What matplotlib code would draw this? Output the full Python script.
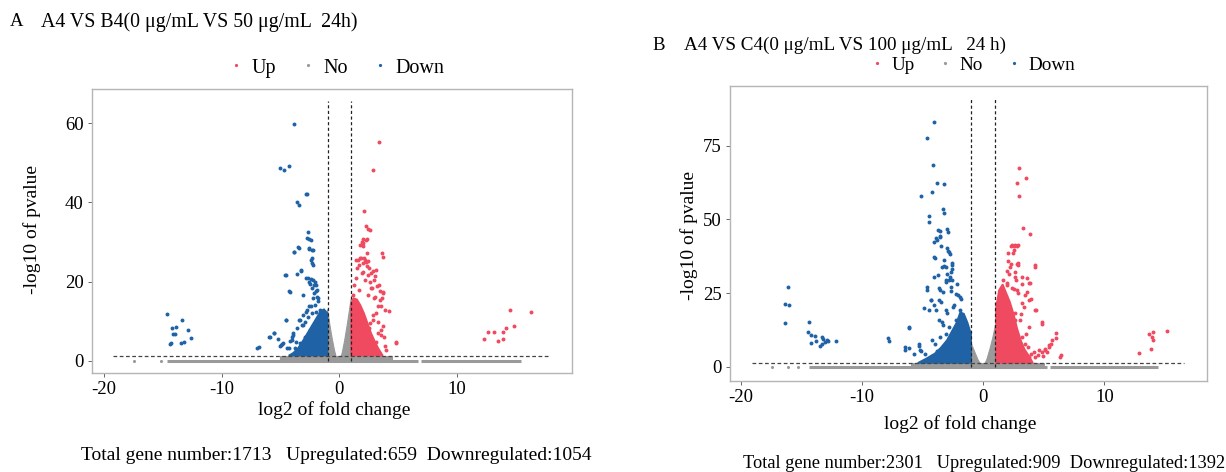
import matplotlib
matplotlib.use("Agg")
import matplotlib.pyplot as plt
from matplotlib.lines import Line2D

plt.rcParams["font.family"] = ["Liberation Serif", "DejaVu Serif"]

RED = "#EF4A5F"
BLUE = "#1F63A6"
GRAY = "#9A9A9A"

# ---------------------------------------------------------------------------
# Panel A : A4 vs B4
A_UP_X = [3.37, 2.89, 2.10, 2.27, 2.46, 2.61, 1.90, 2.04, 2.32, 1.76, 1.98, 3.60, 3.68,
          1.56, 1.76, 2.18, 2.46, 2.04, 2.32, 2.89, 2.66, 3.03, 2.18, 2.61, 3.17, 3.46,
          3.74, 4.25, 3.88, 3.46, 3.31, 3.60, 3.12, 4.82, 3.80, 3.88, 3.68, 3.51, 3.31,
          2.89, 2.61, 3.03, 2.75, 1.90, 1.47, 2.32,
          2.27, 1.98, 1.84, 2.13, 2.27, 1.42, 1.70, 2.55, 3.12, 1.98, 2.41, 1.42, 2.98,
          3.40, 2.70, 1.70, 2.41, 2.98, 3.55, 3.69, 4.82, 3.97, 3.55, 3.26, 2.84, 2.55,
          2.27, 3.12, 2.70, 1.28, 1.13,
          12.29, 12.66, 13.14, 13.46, 13.94, 13.94, 14.16, 14.50, 14.79, 16.26]
A_UP_Y = [55.2, 48.1, 37.7, 33.9, 33.2, 33.1, 30.1, 30.7, 30.7, 29.1, 28.9, 27.2, 26.3,
          25.5, 25.9, 25.5, 25.1, 24.7, 23.8, 22.6, 22.1, 21.3, 20.5, 20.0, 18.8, 17.5,
          17.1, 12.6, 12.9, 15.4, 13.7, 15.8, 12.0, 4.6, 6.1, 3.6, 8.7, 7.8, 7.0,
          10.4, 9.5, 16.2, 18.4, 22.1, 23.4, 27.2,
          30.5, 29.6, 25.9, 25.9, 25.0, 25.4, 24.2, 23.3, 22.9, 22.5, 21.7, 20.8, 20.4,
          19.1, 18.3, 17.9, 16.6, 15.8, 13.7, 17.4, 4.8, 2.8, 6.6, 9.9, 11.6, 8.2,
          6.6, 4.8, 3.6, 19.1, 16.6,
          5.6, 7.2, 7.2, 5.05, 5.6, 7.2, 8.2, 12.9, 8.7, 12.3]
A_DOWN_X = [-3.82, -5.04, -4.70, -4.31, -2.86, -2.78, -3.63, -3.46, -2.63, -2.55, -2.44,
            -3.48, -3.82, -2.61, -2.35, -2.29, -2.35, -2.27, -4.53, -3.57, -3.26, -4.19,
            -4.53, -6.83, -5.89, -5.55, -5.24, -5.04, -4.90, -4.76, -3.99, -4.05, -3.34,
            -3.14, -2.92, -2.63, -2.44, -2.21, -2.07, -2.49, -1.98, -2.35, -1.93, -2.15,
            -1.87, -2.27, -1.78, -2.04, -2.55, -2.78, -2.29, -1.64, -3.06, -2.63, -3.57,
            -3.91, -4.19, -4.48, -3.77, -3.34, -2.92, -2.49,
            -2.70, -2.55, -2.27, -3.83, -3.46, -2.41, -4.62, -3.26, -2.84, -4.26, -2.55,
            -2.13, -1.98, -3.12, -1.84, -4.54, -3.40, -3.12, -3.97, -5.53, -5.96, -6.95,
            -4.96, -4.26, -2.84, -2.41, -1.98, -3.69,
            -14.59, -14.25, -14.39, -14.19, -14.11, -13.88, -13.97, -13.34, -13.46, -13.20,
            -12.83, -12.63]
A_DOWN_Y = [59.8, 48.7, 48.1, 49.1, 42.2, 42.2, 40.1, 39.2, 32.4, 30.7, 30.6,
            28.6, 27.4, 28.2, 27.9, 25.9, 24.8, 24.2, 21.7, 21.9, 22.7, 17.3,
            10.4, 3.4, 5.9, 7.0, 5.6, 3.6, 4.2, 4.5, 6.1, 5.3, 10.4,
            9.1, 9.7, 20.9, 20.6, 20.5, 20.0, 19.4, 19.2, 18.4, 17.9, 17.1,
            16.2, 15.8, 15.0, 14.1, 13.7, 12.9, 12.0, 12.9, 11.6, 11.0, 8.2,
            7.0, 4.9, 3.2, 3.2, 4.5, 6.1, 7.8,
            30.9, 28.4, 27.96, 27.5, 28.5, 25.4, 21.7, 22.9, 20.8, 17.5, 20.0,
            19.1, 17.5, 16.6, 15.8, 10.3, 10.3, 9.1, 6.6, 7.0, 6.1, 3.2,
            4.0, 3.2, 12.4, 13.7, 12.4, 4.8,
            11.8, 4.46, 4.3, 8.25, 6.8, 8.5, 6.8, 10.2, 4.6, 4.7,
            7.7, 5.8]
# dense cores (outline of the solid clusters)
A_UP_CORE_X = [1.0, 1.0, 1.2, 1.5, 1.8, 2.1, 2.4, 2.7, 3.0, 3.3, 3.7]
A_UP_CORE_Y = [1.3, 14.5, 15.8, 15.5, 14.0, 12.0, 9.5, 7.0, 5.0, 3.2, 1.3]
A_DOWN_CORE_X = [-1.0, -1.0, -1.3, -1.6, -1.9, -2.3, -2.7, -3.1, -3.5, -3.9, -4.3]
A_DOWN_CORE_Y = [1.3, 12.0, 13.0, 12.5, 11.0, 9.0, 7.0, 5.0, 3.2, 2.0, 1.3]
A_NO_CORE_X = [-1.0, -1.0, -0.8, -0.6, -0.4, -0.25, -0.1, 0.1, 0.25, 0.45, 0.7, 1.0, 1.0]
A_NO_CORE_Y = [0.0, 13.0, 9.0, 5.5, 2.5, 0.8, 0.3, 0.5, 2.0, 5.0, 9.5, 15.5, 0.0]
A_NO_FLOOR = (-5.0, 4.5, 1.3)
A_NO_BAND = [(-14.6, 6.65), (6.95, 15.4)]
A_NO_X = [-17.45, -15.1]
A_NO_Y = [0.0, 0.0]

# Panel B : A4 vs C4
B_UP_X = [2.94, 3.52, 2.80, 2.94, 3.31, 3.89, 2.31, 2.56, 2.82, 2.51, 2.07, 2.25, 2.80,
          2.88, 1.96, 2.13, 2.65, 4.24, 2.71, 3.17, 3.80, 1.64, 1.93, 2.51, 2.80, 3.57,
          3.95, 4.32, 4.81, 3.37, 3.08, 2.65, 2.22, 5.97, 5.59, 5.39, 5.10, 4.81, 4.52,
          4.24, 3.95, 6.34, 5.24, 4.96, 3.52, 3.80, 3.23, 2.94, 3.66, 3.37,
          2.34, 2.62, 2.90, 2.06, 2.48, 2.90, 4.29, 2.20, 2.62, 3.18, 3.60, 3.88, 1.92,
          2.34, 2.90, 3.46, 3.74, 3.18, 4.29, 2.62, 3.04, 4.85, 5.97, 5.69, 5.41, 5.13,
          4.58, 4.16, 6.39, 3.46, 3.04, 3.74,
          12.85, 13.80, 13.69, 13.89, 14.03, 14.01, 15.13]
B_UP_Y = [67.3, 64.2, 62.5, 58.1, 47.0, 45.2, 40.9, 40.9, 40.9, 39.5, 35.8, 35.0, 35.0,
          34.4, 32.5, 31.6, 32.1, 33.8, 29.3, 28.2, 28.4, 29.3, 27.6, 26.4, 25.9, 25.3,
          23.0, 19.1, 14.5, 20.2, 17.9, 15.7, 13.4, 9.8, 7.7, 6.6, 5.7, 4.9, 4.1,
          3.4, 4.3, 3.4, 4.9, 3.7, 11.1, 13.4, 10.0, 7.7, 6.6, 4.3,
          41.4, 41.4, 41.4, 38.6, 38.6, 35.2, 34.6, 34.0, 30.6, 30.6, 30.0, 28.3, 28.3,
          26.6, 24.9, 24.3, 22.6, 21.5, 19.2, 18.1, 15.8, 15.2, 11.3, 9.0, 7.3, 6.1,
          5.6, 5.0, 3.9, 7.8, 6.1, 3.3,
          4.8, 5.9, 11.1, 10.2, 11.7, 9.1, 12.3]
B_DOWN_X = [-4.09, -4.61, -4.12, -3.78, -3.20, -4.27, -5.16, -3.29, -3.26, -4.50, -4.47,
            -3.75, -3.54, -3.00, -2.88, -3.60, -3.78, -4.09, -2.91, -2.74, -3.98, -2.54,
            -2.59, -3.20, -3.11, -3.75, -2.97, -2.82, -2.59, -2.74, -3.11, -2.19, -4.64,
            -3.54, -3.34, -2.68, -2.25, -1.96, -1.82, -4.32, -3.69, -4.03, -4.47, -3.11,
            -2.48, -1.96, -3.69, -3.34, -3.11, -6.14, -7.75, -6.43, -6.14, -5.27, -5.13,
            -4.84, -4.27, -3.98, -3.54, -2.82, -2.25, -3.83,
            -3.93, -3.57, -3.51, -4.07, -2.96, -2.82, -3.24, -2.54, -3.38, -2.68, -4.07,
            -3.10, -4.63, -3.65, -2.68, -2.12, -4.35, -3.51, -2.40, -4.91, -3.93, -2.96,
            -3.38, -6.16, -7.84, -6.44, -5.33, -4.21, -5.19, -5.75,
            -16.08, -16.37, -16.02, -16.37, -14.35, -14.50, -14.21, -13.92, -14.21, -13.78,
            -13.34, -13.20, -13.34, -13.49, -13.05, -12.91, -12.77, -12.13]
B_DOWN_Y = [82.9, 77.6, 68.3, 62.5, 62.0, 59.3, 57.9, 53.6, 52.2, 51.1, 49.1,
            46.5, 46.1, 46.9, 45.7, 44.0, 42.9, 42.3, 39.3, 38.4, 37.0, 34.6,
            33.1, 34.3, 33.8, 31.0, 31.6, 29.5, 29.6, 30.4, 28.7, 28.1, 26.1,
            25.9, 25.5, 25.7, 24.7, 23.6, 23.0, 22.5, 22.5, 20.8, 19.3, 19.1,
            20.2, 19.1, 15.7, 14.3, 11.1, 13.1, 8.9, 5.7, 6.2, 6.9, 5.4,
            4.3, 3.7, 7.7, 10.0, 13.4, 15.7, 5.4,
            43.7, 44.3, 40.9, 37.4, 40.3, 39.1, 36.3, 35.2, 34.0, 32.3, 30.6,
            29.5, 27.2, 26.6, 27.2, 24.3, 22.6, 22.1, 20.9, 19.8, 19.2, 18.1,
            15.3, 13.5, 9.6, 6.7, 7.8, 9.0, 5.6, 4.4,
            26.9, 21.2, 20.8, 14.9, 15.1, 11.7, 10.9, 10.6, 7.9, 8.6,
            10.0, 9.4, 7.7, 6.9, 8.3, 9.1, 8.6, 8.6]
B_UP_CORE_X = [1.05, 1.05, 1.3, 1.6, 1.9, 2.2, 2.5, 2.8, 3.1, 3.4, 3.8, 4.1]
B_UP_CORE_Y = [1.3, 20.0, 26.0, 28.0, 25.0, 22.0, 18.0, 13.0, 9.0, 6.0, 3.5, 1.3]
B_DOWN_CORE_X = [-1.0, -1.0, -1.3, -1.6, -1.9, -2.2, -2.6, -3.0, -3.5, -4.0, -4.7, -5.4]
B_DOWN_CORE_Y = [1.3, 11.0, 15.0, 18.0, 18.5, 15.0, 12.0, 9.0, 6.5, 4.5, 2.8, 1.3]
B_NO_CORE_X = [-1.0, -1.0, -0.7, -0.45, -0.25, -0.1, 0.1, 0.3, 0.55, 0.8, 1.0, 1.0]
B_NO_CORE_Y = [0.0, 8.0, 5.0, 2.5, 1.0, 0.5, 0.6, 2.5, 6.0, 10.0, 14.0, 0.0]
B_NO_FLOOR = (-6.0, 5.0, 1.3)
B_NO_BAND = [(-14.4, 5.24), (5.53, 14.4)]
B_NO_X = [-17.46, -16.1, -15.3]
B_NO_Y = [0.0, 0.0, 0.0]

PANELS = [
    dict(letter="A", title="A4 VS B4(0 \u03bcg/mL VS 50 \u03bcg/mL  24h)",
         footer="Total gene number:1713   Upregulated:659  Downregulated:1054",
         up=(A_UP_X, A_UP_Y), down=(A_DOWN_X, A_DOWN_Y), no=(A_NO_X, A_NO_Y),
         up_core=(A_UP_CORE_X, A_UP_CORE_Y), down_core=(A_DOWN_CORE_X, A_DOWN_CORE_Y),
         no_core=(A_NO_CORE_X, A_NO_CORE_Y), floor=A_NO_FLOOR, band=A_NO_BAND,
         yticks=[0, 20, 40, 60], xlim=(-21.0, 19.75), ylim=(-3.1, 68.6),
         vtop=65.5, hline=(-19.2, 17.9),
         rect=[0.075, 0.2097, 0.3915, 0.6017]),
    dict(letter="B", title="A4 VS C4(0 \u03bcg/mL VS 100 \u03bcg/mL   24 h)",
         footer="Total gene number:2301   Upregulated:909  Downregulated:1392",
         up=(B_UP_X, B_UP_Y), down=(B_DOWN_X, B_DOWN_Y), no=(B_NO_X, B_NO_Y),
         up_core=(B_UP_CORE_X, B_UP_CORE_Y), down_core=(B_DOWN_CORE_X, B_DOWN_CORE_Y),
         no_core=(B_NO_CORE_X, B_NO_CORE_Y), floor=B_NO_FLOOR, band=B_NO_BAND,
         yticks=[0, 25, 50, 75], xlim=(-20.9, 18.45), ylim=(-4.8, 95.3),
         vtop=91.0, hline=(-19.1, 16.6),
         rect=[0.5954, 0.193, 0.389, 0.625]),
]
# ---------------------------------------------------------------------------

W, H = 1226, 472
fig = plt.figure(figsize=(W / 100, H / 100), dpi=100)


def px(x, y):
    """pixel position (from top-left) -> figure fraction"""
    return x / W, 1 - y / H


def draw_panel(p):
    ax = fig.add_axes(p["rect"])
    fl0, fl1, fltop = p["floor"]
    ax.fill([fl0, fl1, fl1, fl0], [0, 0, fltop, fltop], color=GRAY, lw=0.8, zorder=1)
    ax.fill(*p["no_core"], color=GRAY, lw=0.8, zorder=1)
    for x0, x1 in p["band"]:
        ax.hlines(0, x0, x1, color=GRAY, lw=2.2, zorder=1)
    ax.scatter(*p["no"], s=5, color=GRAY, lw=0, zorder=1)

    ax.fill(*p["down_core"], color=BLUE, ec=BLUE, lw=1.2, zorder=2)
    ax.fill(*p["up_core"], color=RED, ec=RED, lw=1.2, zorder=2)
    ax.scatter(*p["down"], s=8, color=BLUE, lw=0, zorder=3)
    ax.scatter(*p["up"], s=8, color=RED, lw=0, zorder=3)

    ax.vlines([-1, 1], 0, p["vtop"], colors="#222222", linestyles=(0, (2.5, 2)), lw=0.9, zorder=4)
    ax.hlines(1.3, *p["hline"], colors="#444444", linestyles=(0, (3, 2)), lw=0.9, zorder=4)

    ax.set_xlim(*p["xlim"])
    ax.set_ylim(*p["ylim"])
    ax.set_xticks([-20, -10, 0, 10])
    ax.set_xticklabels(["-20", "-10", "0", "10"])
    ax.set_yticks(p["yticks"])
    ax.tick_params(length=3, width=0.7, color="#666666", labelsize=13.5, pad=3)
    for s in ax.spines.values():
        s.set_color("#B5B5B5")
        s.set_linewidth(1.0)
    return ax


axA = draw_panel(PANELS[0])
axB = draw_panel(PANELS[1])

# titles
fig.text(*px(10, 22), "A", fontsize=13.5, va="center")
fig.text(*px(41, 22), PANELS[0]["title"], fontsize=14.3, va="center")
fig.text(*px(652, 45), "B", fontsize=13.5, va="center")
fig.text(*px(684, 45), PANELS[1]["title"], fontsize=13.8, va="center")

# axis labels
fig.text(*px(32, 230), "-log10 of pvalue", fontsize=14, rotation=90, ha="center", va="center")
fig.text(*px(689, 236), "-log10 of pvalue", fontsize=14, rotation=90, ha="center", va="center")
fig.text(*px(334, 410), "log2 of fold change", fontsize=14, ha="center", va="center")
fig.text(*px(960, 424), "log2 of fold change", fontsize=14, ha="center", va="center")

# footers
fig.text(*px(336, 456), PANELS[0]["footer"], fontsize=14, ha="center", va="center")
fig.text(*px(984, 464), PANELS[1]["footer"], fontsize=13.2, ha="center", va="center")

# legends
handles = [Line2D([], [], ls="", marker="o", ms=2.3, color=c, mew=0) for c in (RED, GRAY, BLUE)]
for ax, (lx, ly), fs in ((axA, (337, 68), 14.5), (axB, (973, 65), 13.8)):
    ax.legend(handles, ["Up", "No", "Down"], ncol=3, frameon=False, fontsize=fs,
              loc="center", bbox_to_anchor=px(lx, ly), bbox_transform=fig.transFigure,
              handlelength=0.6, handletextpad=0.45, columnspacing=1.3, borderpad=0)

fig.savefig("out.png", dpi=100)
